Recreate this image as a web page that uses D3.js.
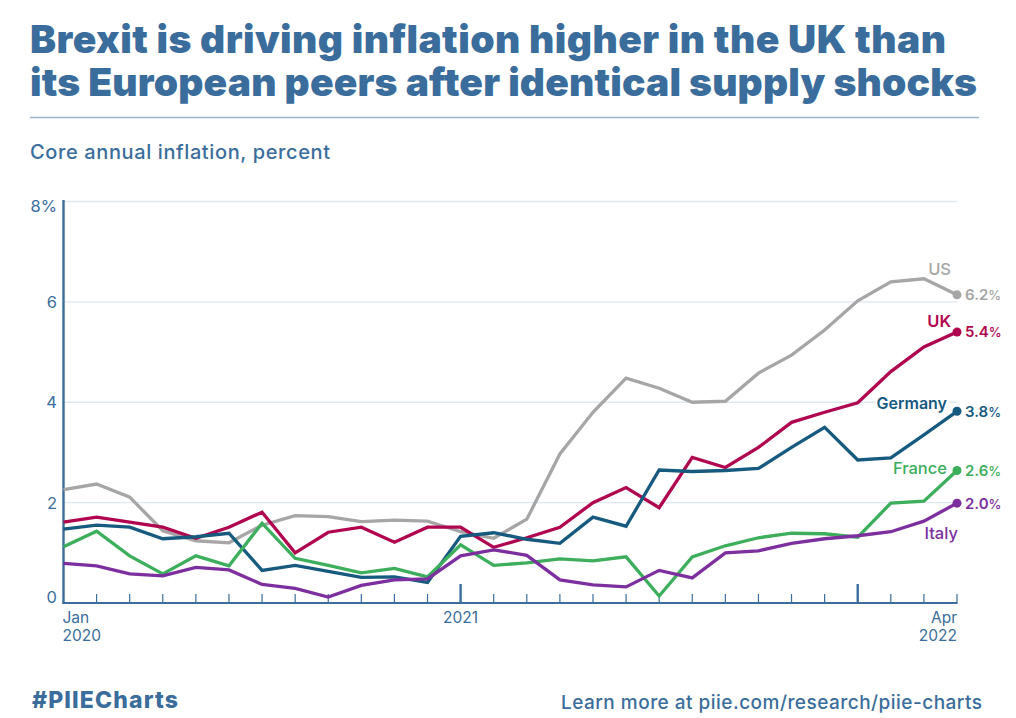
<!DOCTYPE html>
<html><head><meta charset="utf-8">
<script src="https://cdn.jsdelivr.net/npm/d3@7/dist/d3.min.js"></script>
<style>html,body{margin:0;padding:0;background:#fff}svg{display:block}text{font-family:Inter,sans-serif}</style>
</head><body><svg id="c" width="1016" height="718"></svg>
<script>
const titleLines = ["Brexit is driving inflation higher in the UK than","its European peers after identical supply shocks"];
const subtitle = "Core annual inflation, percent";
const months = d3.range(28);
const yTicks = [0,2,4,6,8];
const usValues = [2.26,2.37,2.11,1.44,1.24,1.2,1.55,1.74,1.72,1.62,1.65,1.63,1.42,1.29,1.67,2.97,3.8,4.48,4.28,4.0,4.02,4.58,4.94,5.44,6.02,6.4,6.46,6.14];
const ukValues = [1.61,1.71,1.61,1.51,1.29,1.51,1.81,1.0,1.41,1.51,1.21,1.51,1.51,1.11,1.3,1.51,2.0,2.3,1.9,2.9,2.7,3.1,3.6,3.8,3.99,4.61,5.1,5.4];
const germanyValues = [1.47,1.55,1.51,1.28,1.32,1.39,0.65,0.75,0.63,0.51,0.52,0.41,1.33,1.4,1.27,1.19,1.71,1.53,2.65,2.62,2.64,2.68,3.1,3.5,2.85,2.89,3.35,3.82];
const franceValues = [1.12,1.43,0.94,0.58,0.94,0.74,1.59,0.89,0.75,0.6,0.69,0.52,1.16,0.75,0.8,0.88,0.84,0.92,0.14,0.92,1.14,1.3,1.39,1.38,1.31,1.99,2.03,2.64];
const italyValues = [0.79,0.74,0.58,0.54,0.71,0.66,0.37,0.29,0.12,0.35,0.46,0.48,0.94,1.06,0.95,0.46,0.36,0.32,0.65,0.5,1.0,1.04,1.19,1.28,1.34,1.42,1.63,1.99];
const seriesNames = ["US","UK","Germany","France","Italy"];
const seriesColors = ["#a6a6a6","#b0054f","#175a7f","#3cae5c","#7d2f9f"];
const seriesValues = [usValues,ukValues,germanyValues,franceValues,italyValues];
const endLabels = ["6.2","5.4","3.8","2.6","2.0"];
const nameAnchors = [[951,275],[951,327],[947,409],[947,474],[958,539]];
const nameWeights = [500,600,600,500,500];

const blue = "#3a6d9b";
const svg = d3.select("#c");
const x = d3.scaleLinear().domain([0,27]).range([63.5,957]);
const y = d3.scaleLinear().domain([0,8]).range([603,201.5]);

const fit = (s,w)=>{ s.attr("textLength",w).attr("lengthAdjust","spacing"); return s; };
titleLines.forEach((t,i)=>fit(svg.append("text").attr("x",30).attr("y",[53,96][i]).attr("font-size",39).attr("font-weight",900).attr("fill",blue).text(t),[916,947][i]));
svg.append("line").attr("x1",30).attr("x2",979).attr("y1",117.5).attr("y2",117.5).attr("stroke","#9db3c6").attr("stroke-width",1.5);
fit(svg.append("text").attr("x",30).attr("y",159).attr("font-size",20).attr("font-weight",500).attr("fill",blue).text(subtitle),300);

svg.append("g").selectAll("line").data(yTicks.slice(1)).join("line")
 .attr("x1",63.5).attr("x2",957).attr("y1",d=>y(d)).attr("y2",d=>y(d)).attr("stroke","#dfe7ef").attr("stroke-width",1.3);
svg.append("g").selectAll("text").data(yTicks).join("text")
 .attr("x",57).attr("y",d=>y(d)+(d==0?0:d==8?10:6)).attr("text-anchor","end").attr("font-size",16.5).attr("fill",blue)
 .text(d=>d==8?"8%":d);
const isYear = d=>d>0&&d%12==0;
svg.append("g").selectAll("line").data(months.slice(1)).join("line")
 .attr("x1",d=>x(d)).attr("x2",d=>x(d)).attr("y1",603)
 .attr("y2",d=>isYear(d)?584:594)
 .attr("stroke",blue).attr("stroke-width",d=>isYear(d)?2.4:1.2);
svg.append("line").attr("x1",62.5).attr("x2",957.5).attr("y1",603).attr("y2",603).attr("stroke",blue).attr("stroke-width",2);
svg.append("line").attr("x1",63.5).attr("x2",63.5).attr("y1",200).attr("y2",604).attr("stroke",blue).attr("stroke-width",2.4);

const xl = (t,px,py,a)=>svg.append("text").attr("x",px).attr("y",py).attr("text-anchor",a).attr("font-size",15.5).attr("fill",blue).text(t);
xl("Jan",x(0)-1,623,"start"); xl("2020",x(0)-1,641,"start");
xl("2021",x(12),623,"middle");
xl("Apr",x(27),623,"end"); xl("2022",x(27),641,"end");

const line = d3.line().x((d,i)=>x(i)).y(d=>y(d));
seriesValues.forEach((v,k)=>{
  svg.append("path").attr("d",line(v)).attr("fill","none").attr("stroke",seriesColors[k]).attr("stroke-width",3.3).attr("stroke-linejoin","miter");
  svg.append("circle").attr("cx",x(27)).attr("cy",y(v[27])).attr("r",4.5).attr("fill",seriesColors[k]);
  const t = svg.append("text").attr("x",965).attr("y",y(v[27])+5.5).attr("font-size",15).attr("font-weight",600).attr("fill",seriesColors[k]);
  t.append("tspan").text(endLabels[k]);
  t.append("tspan").attr("font-size",13).attr("font-weight",500).text("%");
  svg.append("text").attr("x",nameAnchors[k][0]).attr("y",nameAnchors[k][1]).attr("text-anchor","end").attr("font-size",k==2?16:16.5).attr("font-weight",nameWeights[k])
    .attr("fill",seriesColors[k]).attr("stroke","#fff").attr("stroke-width",4).attr("paint-order","stroke").text(seriesNames[k]);
});
fit(svg.append("text").attr("x",32).attr("y",708).attr("font-size",23).attr("font-weight",800).attr("fill",blue).text("#PIIECharts"),146);
fit(svg.append("text").attr("x",561).attr("y",709).attr("font-size",19).attr("font-weight",500).attr("fill",blue).text("Learn more at piie.com/research/piie-charts"),421);
</script></body></html>
